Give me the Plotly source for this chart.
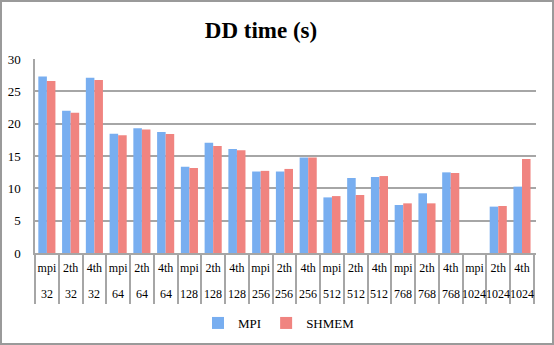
import plotly.graph_objects as go

modes = ["mpi", "2th", "4th"] * 7
sizes = ["32"] * 3 + ["64"] * 3 + ["128"] * 3 + ["256"] * 3 + ["512"] * 3 + ["768"] * 3 + ["1024"] * 3
mpi = [27.3, 22.0, 27.1, 18.45, 19.3, 18.7, 13.35, 17.05, 16.1, 12.6, 12.6, 14.75,
       8.6, 11.6, 11.75, 7.42, 9.23, 12.47, 0, 7.17, 10.26]
shmem = [26.6, 21.7, 26.75, 18.2, 19.1, 18.4, 13.15, 16.55, 15.9, 12.7, 13.0, 14.75,
         8.8, 8.97, 11.9, 7.68, 7.68, 12.37, 0, 7.27, 14.53]
keys = [f"{m}_{s}" for m, s in zip(modes, sizes)]

FONT = "Liberation Serif"
GRID = "#a6a6a6"

fig = go.Figure()
fig.add_trace(go.Bar(x=keys, y=mpi, name="MPI",
                     marker=dict(color="#78aef0", line=dict(width=0))))
fig.add_trace(go.Bar(x=keys, y=shmem, name="SHMEM",
                     marker=dict(color="#f08480", line=dict(width=0))))

fig.update_layout(
    width=554, height=345,
    margin=dict(l=35, r=18, t=59, b=92, autoexpand=False),
    paper_bgcolor="white", plot_bgcolor="white",
    barmode="group", bargap=0.28, bargroupgap=0,
    font=dict(family=FONT, size=13, color="black"),
    title=dict(text="<b>DD time (s)</b>", x=(205 + 317) / 2 / 554, xanchor="center",
               y=1 - 30 / 345, yanchor="middle",
               font=dict(family=FONT, size=23, color="black")),
    showlegend=True,
    legend=dict(orientation="h", x=(279 - 35) / 501, xanchor="center",
                yref="container", y=1 - 323 / 345, yanchor="middle",
                font=dict(family=FONT, size=13), itemwidth=30, traceorder="normal"),
    xaxis=dict(type="category", tickvals=keys, ticktext=modes, tickangle=0,
               automargin=False,
               showline=True, linecolor=GRID, linewidth=1.5,
               ticks="outside", tickson="boundaries", ticklen=49,
               tickcolor=GRID, tickwidth=1.5, showgrid=False,
               ticklabelstandoff=3, tickfont=dict(size=12)),
    yaxis=dict(range=[0, 30], dtick=5, showgrid=True, gridcolor=GRID, gridwidth=1.5,
               automargin=False,
               showline=True, linecolor=GRID, linewidth=1.5, zeroline=False,
               ticks="", ticklabelstandoff=10, tickfont=dict(size=13)),
)

for k, s in zip(keys, sizes):
    fig.add_annotation(x=k, xref="x", y=(253 - 294) / 194, yref="paper",
                       text=s, showarrow=False, yanchor="middle", xanchor="center",
                       font=dict(family=FONT, size=12, color="black"))

fig.add_shape(type="rect", xref="paper", yref="paper",
              x0=(1 - 35) / 501, x1=(553 - 35) / 501,
              y0=(253 - 344) / 194, y1=(253 - 1) / 194,
              line=dict(color="#9a9a9a", width=2), layer="below")

fig.write_html("out.html")
